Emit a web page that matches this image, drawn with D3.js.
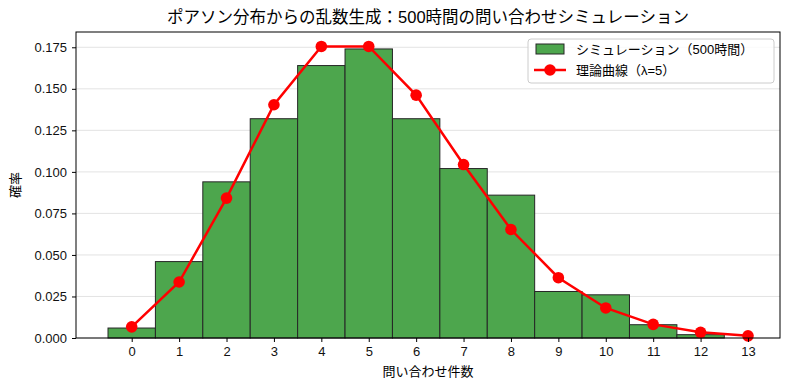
<!DOCTYPE html>
<html>
<head>
<meta charset="utf-8">
<script src="https://cdn.jsdelivr.net/npm/d3@7"></script>
<style>
	body{margin:0;background:#fff;}
	text{font-family:"Liberation Sans","Noto Sans CJK JP",sans-serif;}
</style>
</head>
<body>
<div id="chart"></div>
<script>

const counts = [0,1,2,3,4,5,6,7,8,9,10,11,12,13]
const simulated = [0.006,0.046,0.094,0.132,0.164,0.174,0.132,0.102,0.086,0.028,0.026,0.008,0.002,0]
const theory = [0.0067,0.0337,0.0842,0.1404,0.1755,0.1755,0.1462,0.1044,0.0653,0.0363,0.0181,0.0082,0.0034,0.0013]
const yTicks = [0,0.025,0.05,0.075,0.1,0.125,0.15,0.175]

const W = 790, H = 390
const m = {left:76, right:10, top:32, bottom:52}

const svg = d3.select("#chart").append("svg")
	.attr("width",W).attr("height",H)

const x = d3.scaleLinear().domain([-1.175,13.675]).range([m.left,W-m.right])
const y = d3.scaleLinear().domain([0,0.1842]).range([H-m.bottom,m.top])

// grid
svg.append("g").selectAll("line").data(yTicks).enter().append("line")
	.attr("x1",m.left).attr("x2",W-m.right)
	.attr("y1",d=>y(d)).attr("y2",d=>y(d))
	.style("stroke","#b0b0b0").style("stroke-opacity",0.45).style("stroke-width",0.8)

// histogram
svg.append("g").selectAll("rect").data(counts.filter((c,i)=>simulated[i]>0)).enter().append("rect")
	.attr("x",d=>x(d-0.5)).attr("width",d=>x(d+0.5)-x(d-0.5))
	.attr("y",d=>y(simulated[d])).attr("height",d=>y(0)-y(simulated[d]))
	.style("fill","#4da64d").style("stroke","#262626").style("stroke-width",1)

// theory line
const line = d3.line().x((d,i)=>x(counts[i])).y(d=>y(d))
svg.append("path").datum(theory).attr("d",line)
	.style("fill","none").style("stroke","red").style("stroke-width",2.5)
svg.append("g").selectAll("circle").data(theory).enter().append("circle")
	.attr("cx",(d,i)=>x(counts[i])).attr("cy",d=>y(d)).attr("r",5.8)
	.style("fill","red")

// axes
const xAxis = svg.append("g").attr("transform","translate(0,"+(H-m.bottom)+")")
	.call(d3.axisBottom(x).tickValues(counts).tickFormat(d3.format("d")).tickSize(4).tickPadding(5))
const yAxis = svg.append("g").attr("transform","translate("+m.left+",0)")
	.call(d3.axisLeft(y).tickValues(yTicks).tickFormat(d3.format(".3f")).tickSize(4).tickPadding(5))
;[xAxis,yAxis].forEach(a=>{
	a.selectAll("text").style("font-size","13px").style("fill","#111")
	a.select(".domain").remove()
})

// frame
svg.append("rect").attr("x",m.left).attr("y",m.top)
	.attr("width",W-m.right-m.left).attr("height",H-m.bottom-m.top)
	.style("fill","none").style("stroke","#000").style("stroke-width",1)

// labels
svg.append("text").attr("x",428).attr("y",23).attr("text-anchor","middle")
	.style("font-size","16.5px").text("ポアソン分布からの乱数生成：500時間の問い合わせシミュレーション")
svg.append("text").attr("x",428).attr("y",376).attr("text-anchor","middle")
	.style("font-size","13px").text("問い合わせ件数")
svg.append("text").attr("transform","translate(20,"+((m.top+H-m.bottom)/2)+") rotate(-90)")
	.attr("text-anchor","middle").style("font-size","13px").text("確率")

// legend
const lg = svg.append("g").attr("transform","translate(528,39)")
lg.append("rect").attr("width",246).attr("height",44).attr("rx",3)
	.style("fill","#fff").style("fill-opacity",0.8).style("stroke","#ccc")
lg.append("rect").attr("x",8).attr("y",5).attr("width",28).attr("height",10)
	.style("fill","#4da64d").style("stroke","#262626")
lg.append("line").attr("x1",6).attr("x2",38).attr("y1",31).attr("y2",31)
	.style("stroke","red").style("stroke-width",2.5)
lg.append("circle").attr("cx",22).attr("cy",31).attr("r",5.8).style("fill","red")
lg.append("text").attr("x",48).attr("y",15).style("font-size","13px").text("シミュレーション（500時間）")
lg.append("text").attr("x",48).attr("y",36).style("font-size","13px").text("理論曲線（λ=5）")

</script>
</body>
</html>
